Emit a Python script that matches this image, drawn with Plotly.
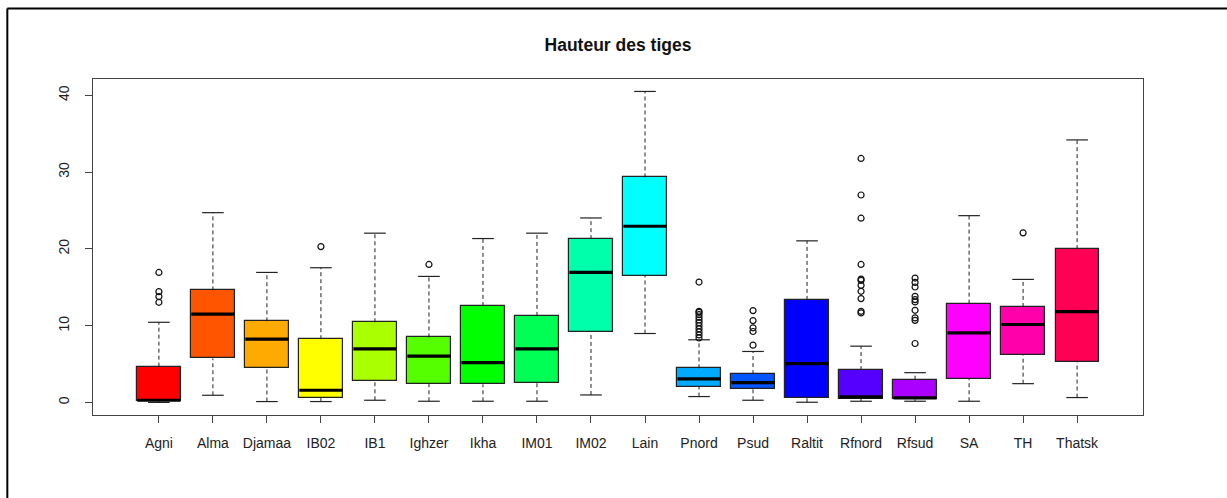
import plotly.graph_objects as go

categories = ["Agni", "Alma", "Djamaa", "IB02", "IB1", "Ighzer", "Ikha", "IM01", "IM02",
              "Lain", "Pnord", "Psud", "Raltit", "Rfnord", "Rfsud", "SA", "TH", "Thatsk"]
lower_whisker = [0.02, 0.95, 0.13, 0.13, 0.30, 0.17, 0.17, 0.17, 0.99,
                 8.99, 0.78, 0.30, 0.04, 0.17, 0.17, 0.17, 2.46, 0.65]
q1 = [0.17, 5.75, 4.54, 0.65, 2.85, 2.46, 2.37, 2.59, 9.21,
      16.51, 2.03, 1.81, 0.65, 0.52, 0.43, 3.06, 6.17, 5.27]
median = [0.30, 11.50, 8.25, 1.60, 7.00, 6.05, 5.19, 7.00, 16.94,
          22.95, 3.07, 2.59, 5.06, 0.73, 0.60, 9.08, 10.16, 11.84]
q3 = [4.67, 14.60, 10.58, 8.25, 10.45, 8.47, 12.58, 11.28, 21.27,
      29.30, 4.45, 3.71, 13.36, 4.23, 2.98, 12.88, 12.45, 19.97]
upper_whisker = [10.45, 24.72, 16.94, 17.55, 22.05, 16.42, 21.35, 22.05, 24.03,
                 40.50, 8.17, 6.65, 21.05, 7.34, 3.89, 24.33, 16.03, 34.19]
outliers = {
    "Agni": [16.94, 14.44, 13.80, 13.05],
    "IB02": [20.30],
    "Ighzer": [17.98],
    "Pnord": [15.69, 11.88, 11.75, 11.45, 11.10, 10.75, 10.40, 10.00, 9.60, 9.20, 8.80, 8.41],
    "Psud": [11.97, 10.67, 9.73, 9.25, 7.47],
    "Rfnord": [31.78, 27.02, 24.00, 17.98, 16.08, 15.90, 15.26, 14.48, 13.53, 11.88, 11.67],
    "Rfsud": [16.21, 15.64, 15.04, 13.83, 13.40, 13.10, 12.01, 11.02, 10.70, 7.69],
    "TH": [22.09],
}
colors = ["#FF0000", "#FF5500", "#FFAA00", "#FFFF00", "#AAFF00", "#55FF00", "#00FF00", "#00FF55",
          "#00FFAA", "#00FFFF", "#00AAFF", "#0055FF", "#0000FF", "#5500FF", "#AA00FF", "#FF00FF",
          "#FF00AA", "#FF0055"]
yticks = [0, 10, 20, 30, 40]
title = "Hauteur des tiges"

BOX_W = 0.8
CAP_W = 0.4
positions = list(range(1, len(categories) + 1))

fig = go.Figure()

# boxes
fig.add_trace(go.Bar(
    x=positions, y=[b - a for a, b in zip(q1, q3)], base=q1, width=BOX_W,
    marker=dict(color=colors, line=dict(color="#222222", width=1.2)),
    hoverinfo="skip", showlegend=False,
))

def seg_trace(xs_pairs, ys_pairs, width, dash=None, color="#222222"):
    xs, ys = [], []
    for (xa, xb), (ya, yb) in zip(xs_pairs, ys_pairs):
        xs += [xa, xb, None]
        ys += [ya, yb, None]
    return go.Scatter(x=xs, y=ys, mode="lines",
                      line=dict(color=color, width=width, dash=dash),
                      hoverinfo="skip", showlegend=False)

# dashed whiskers
fig.add_trace(seg_trace([(p, p) for p in positions], list(zip(q3, upper_whisker)), 1, "4px,3px"))
fig.add_trace(seg_trace([(p, p) for p in positions], list(zip(lower_whisker, q1)), 1, "4px,3px"))
# caps
fig.add_trace(seg_trace([(p - CAP_W / 2, p + CAP_W / 2) for p in positions],
                        [(v, v) for v in upper_whisker], 1.2))
fig.add_trace(seg_trace([(p - CAP_W / 2, p + CAP_W / 2) for p in positions],
                        [(v, v) for v in lower_whisker], 1.2))
# medians
fig.add_trace(seg_trace([(p - BOX_W / 2, p + BOX_W / 2) for p in positions],
                        [(v, v) for v in median], 3.2, color="#000000"))

# outliers
ox, oy = [], []
for p, c in zip(positions, categories):
    for v in outliers.get(c, []):
        ox.append(p)
        oy.append(v)
fig.add_trace(go.Scatter(
    x=ox, y=oy, mode="markers",
    marker=dict(symbol="circle-open", size=6, color="#111111", line=dict(width=1.2)),
    hoverinfo="skip", showlegend=False,
))

n = len(categories)
pad = 0.04 * n
ymin, ymax = 0, max(upper_whisker + [v for vs in outliers.values() for v in vs])
ypad = 0.04 * (ymax - ymin)

fig.update_layout(
    width=1227, height=498,
    margin=dict(l=93, r=84, t=79, b=83),
    paper_bgcolor="white", plot_bgcolor="white",
    font=dict(family="Liberation Sans, Arial, sans-serif", size=14, color="#222222"),
    title=dict(text="<b>" + title + "</b>", xref="paper", x=0.5, xanchor="center",
               y=1 - 45 / 498, yanchor="middle", font=dict(size=17.5, color="#111111")),
    bargap=0,
    xaxis=dict(range=[0.5 - pad, n + 0.5 + pad], tickmode="array", tickvals=positions,
               ticktext=categories, showgrid=False, zeroline=False,
               showline=True, linecolor="#444444", linewidth=1.2, mirror=True,
               ticks="outside", ticklen=7, tickcolor="#444444", ticklabelstandoff=8),
    yaxis=dict(range=[ymin - ypad, ymax + ypad], tickmode="array", tickvals=yticks,
               showgrid=False, zeroline=False, tickangle=-90,
               showline=True, linecolor="#444444", linewidth=1.2, mirror=True,
               ticks="outside", ticklen=7, tickcolor="#444444", ticklabelstandoff=10),
    shapes=[
        dict(type="line", xref="paper", yref="paper", x0=-0.0816, x1=1.1, y0=1.2096, y1=1.2096,
             line=dict(color="black", width=2)),
        dict(type="line", xref="paper", yref="paper", x0=-0.0816, x1=-0.0816, y0=1.2096, y1=-0.3,
             line=dict(color="black", width=2)),
    ],
)

fig.write_html("out.html", config={"displayModeBar": False},
               post_script="document.body.style.margin='0';document.body.style.overflow='hidden';")
